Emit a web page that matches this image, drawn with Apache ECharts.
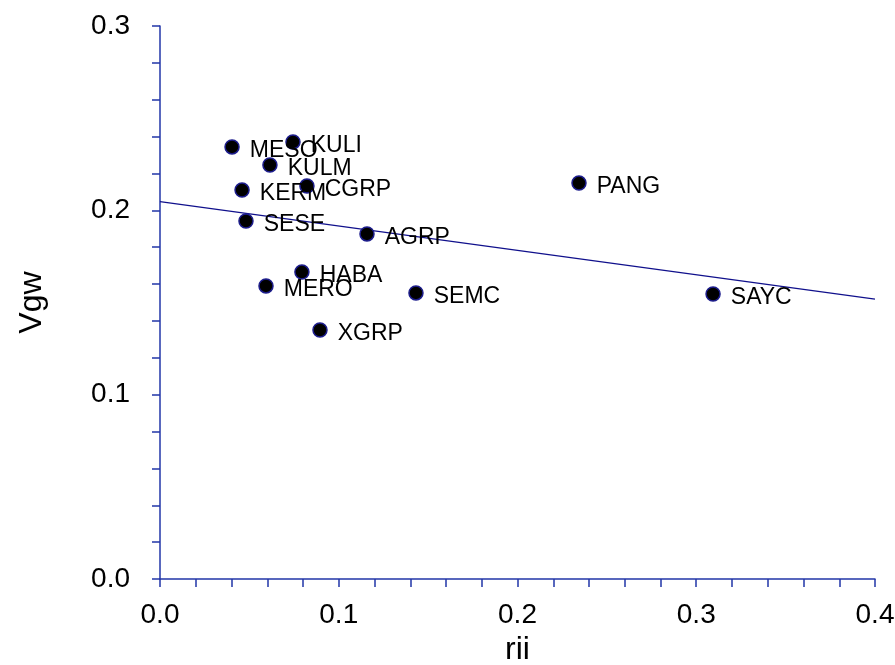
<!DOCTYPE html>
<html>
<head>
<meta charset="utf-8">
<script src="https://cdn.jsdelivr.net/npm/echarts@6/dist/echarts.min.js"></script>
<style>html,body{margin:0;padding:0;background:#fff;}#c{width:895px;height:665px;}</style>
</head>
<body>
<div id="c"></div>
<script>
var names = ['MESO','KULI','KULM','KERM','CGRP','SESE','AGRP','HABA','MERO','SEMC','XGRP','PANG','SAYC'];
var riiVals = [0.0403,0.0744,0.0615,0.0459,0.0822,0.0481,0.1158,0.0794,0.0593,0.1432,0.0895,0.2344,0.3094];
var vgwVals = [0.2344,0.2371,0.2246,0.2110,0.2132,0.1942,0.1872,0.1665,0.1590,0.1552,0.1351,0.2148,0.1546];
var fitX = [0, 0.4];
var fitY = [0.2047, 0.1518];

var axisColor = '#2236a8';
var font = "'Liberation Sans', Arial, sans-serif";

var pts = names.map(function(n,i){ return {name:n, value:[riiVals[i], vgwVals[i]]}; });
var fit = fitX.map(function(x,i){ return [x, fitY[i]]; });

var chart = echarts.init(document.getElementById('c'));
chart.setOption({
  animation:false,
  backgroundColor:'#fff',
  grid:{left:160,right:20,top:26,bottom:86,containLabel:false,outerBoundsMode:'none'},
  xAxis:{
    type:'value',min:0,max:0.4,interval:0.1,
    name:'rii',nameLocation:'middle',nameGap:55,
    nameTextStyle:{fontFamily:font,fontSize:32,color:'#000'},
    axisLine:{show:true,lineStyle:{color:axisColor,width:1.5}},
    axisTick:{show:true,length:8,lineStyle:{color:axisColor,width:1.5}},
    minorTick:{show:true,splitNumber:5,length:8,lineStyle:{color:axisColor,width:1.5}},
    splitLine:{show:false},
    axisLabel:{fontFamily:font,fontSize:28,color:'#000',margin:22,formatter:function(v){return v.toFixed(1);}}
  },
  yAxis:{
    type:'value',min:0,max:0.3,interval:0.1,
    name:'Vgw',nameLocation:'middle',nameGap:112,nameRotate:90,
    nameTextStyle:{fontFamily:font,fontSize:32,color:'#000'},
    axisLine:{show:true,lineStyle:{color:axisColor,width:1.5}},
    axisTick:{show:true,length:8,lineStyle:{color:axisColor,width:1.5}},
    minorTick:{show:true,splitNumber:5,length:8,lineStyle:{color:axisColor,width:1.5}},
    splitLine:{show:false},
    axisLabel:{fontFamily:font,fontSize:28,color:'#000',margin:30,formatter:function(v){return v.toFixed(1);}}
  },
  series:[
    {
      type:'line',data:fit,symbol:'none',
      lineStyle:{color:'#10108c',width:1.2},z:1
    },
    {
      type:'scatter',data:pts,symbol:'circle',symbolSize:14,
      itemStyle:{color:'#000',borderColor:'#1c1c8c',borderWidth:1.5,opacity:1},
      label:{show:true,position:'right',distance:10,offset:[0,4],
        formatter:function(p){return p.name;},
        fontFamily:font,fontSize:23,color:'#000'},
      z:2
    }
  ]
});
</script>
</body>
</html>
